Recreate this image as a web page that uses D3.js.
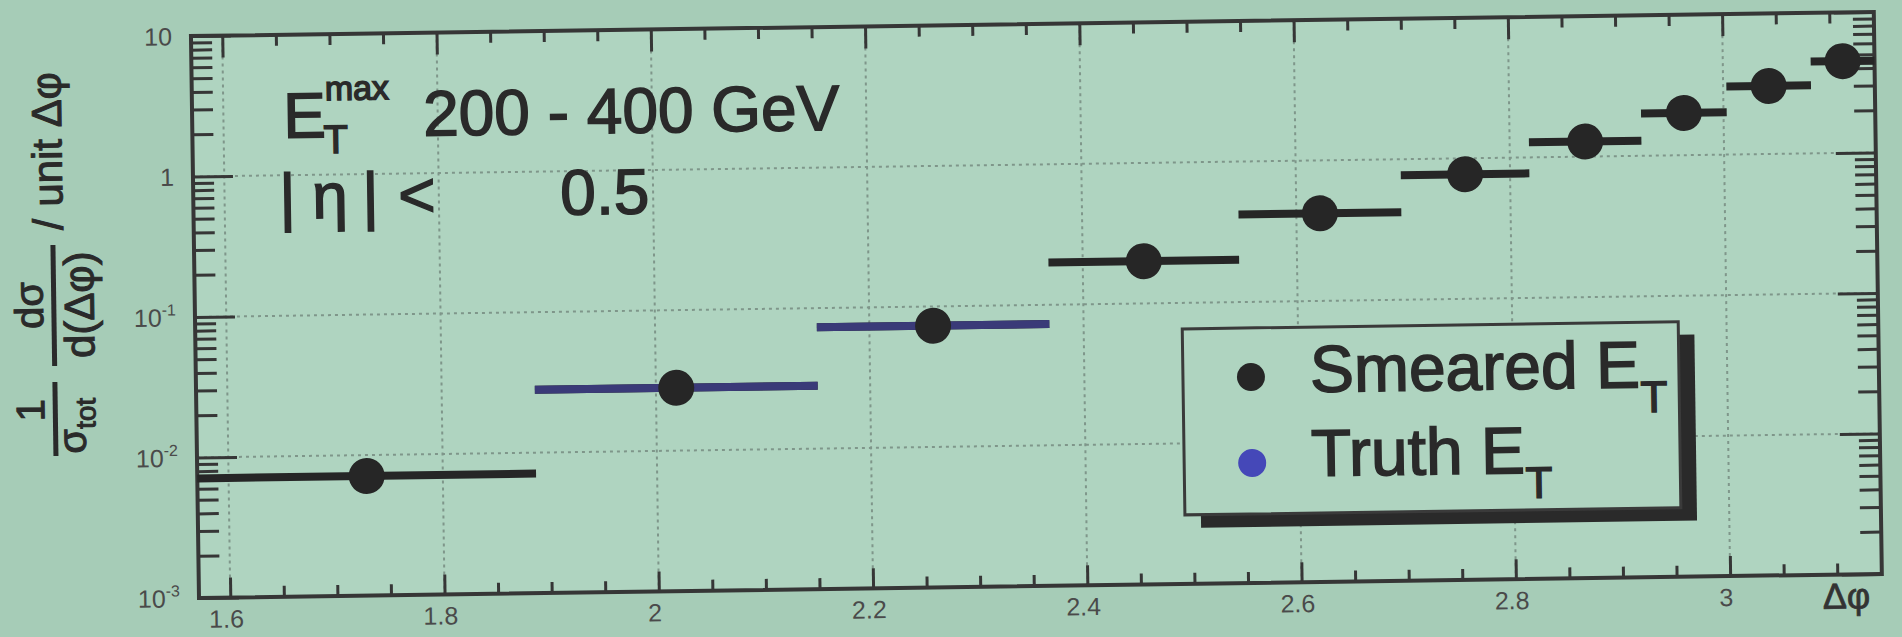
<!DOCTYPE html>
<html>
<head>
<meta charset="utf-8">
<script src="https://cdn.jsdelivr.net/npm/d3@7"></script>
<style>
  html, body { margin: 0; padding: 0; background: #a6ccb7; overflow: hidden; }
  svg { display: block; font-family: "Liberation Sans", Arial, sans-serif; }
</style>
</head>
<body>
<svg id="chart" width="1902" height="637"></svg>
<script>
// Δφ bin edges (radians), pi/2 .. pi
const binEdges = [1.5708, 1.887, 2.151, 2.368, 2.546, 2.698, 2.818, 2.923, 3.003, 3.082, 3.1416];
// 1/σ dσ/d(Δφ) per bin
const smeared = [0.0071, 0.028, 0.073, 0.20, 0.42, 0.77, 1.28, 2.0, 3.05, 4.5];
// truth only visible where it peeks out from under the smeared points
const truth = [null, 0.028, 0.073, null, null, null, null, null, null, null];

const xMajorTicks = [1.6, 1.8, 2.0, 2.2, 2.4, 2.6, 2.8, 3.0];
const xTickLabels = ['1.6', '1.8', '2', '2.2', '2.4', '2.6', '2.8', '3'];
const yMajorTicks = [0.001, 0.01, 0.1, 1, 10];
const yTickLabels = [['10', '-3'], ['10', '-2'], ['10', '-1'], ['1', ''], ['10', '']];
const yGrid = [0.01, 0.1, 1];
const seriesNames = ['Smeared E', 'Truth E'];

const frameColor = '#363636';
const plotBg = '#afd4c0';
const gridColor = '#7f968a';
const smearColor = '#262626';
const truthBarColor = '#3a3a78';
const truthColor = '#4548b8';
const inkColor = '#2a2a2a';

const plotL = 199, plotR = 1882, plotT = 36, plotB = 598;

const svg = d3.select('#chart');
const x = d3.scaleLinear().domain([Math.PI / 2, Math.PI]).range([plotL, plotR]);
const y = d3.scaleLog().domain([1e-3, 10]).range([plotB, plotT]);

// the photographed slide is tilted a little
const g = svg.append('g').attr('transform', `rotate(-0.82, ${plotL}, ${plotB})`);

g.append('rect')
  .attr('x', plotL).attr('y', plotT)
  .attr('width', plotR - plotL).attr('height', plotB - plotT)
  .attr('fill', plotBg);

// grid
g.append('g').selectAll('line').data(xMajorTicks).enter().append('line')
  .attr('x1', d => x(d)).attr('x2', d => x(d))
  .attr('y1', plotT).attr('y2', plotB)
  .attr('stroke', gridColor).attr('stroke-width', 2).attr('stroke-dasharray', '3,4');
g.append('g').selectAll('line').data(yGrid).enter().append('line')
  .attr('x1', plotL).attr('x2', plotR)
  .attr('y1', d => y(d)).attr('y2', d => y(d))
  .attr('stroke', gridColor).attr('stroke-width', 2).attr('stroke-dasharray', '3,4');

// tick marks on all four sides, pointing inward
const xMinor = d3.range(1.6, 3.12, 0.05).filter(v => !xMajorTicks.some(t => Math.abs(t - v) < 1e-6));
const yMinor = [];
[-3, -2, -1, 0].forEach(k => d3.range(2, 10).forEach(m => yMinor.push(m * Math.pow(10, k))));

function ticks(axisFn, scale, values, size, transform) {
  g.append('g').attr('transform', transform)
    .call(axisFn(scale).tickValues(values).tickSizeInner(size).tickSizeOuter(0).tickFormat(''))
    .call(a => a.select('.domain').remove())
    .selectAll('line').attr('stroke', frameColor).attr('stroke-width', 3);
}
ticks(d3.axisBottom, x, xMajorTicks, -20, `translate(0,${plotB})`);
ticks(d3.axisBottom, x, xMinor, -11, `translate(0,${plotB})`);
ticks(d3.axisTop, x, xMajorTicks, -22, `translate(0,${plotT})`);
ticks(d3.axisTop, x, xMinor, -11, `translate(0,${plotT})`);
ticks(d3.axisLeft, y, yMajorTicks, -40, `translate(${plotL},0)`);
ticks(d3.axisLeft, y, yMinor, -21, `translate(${plotL},0)`);
ticks(d3.axisRight, y, yMajorTicks, -40, `translate(${plotR},0)`);
ticks(d3.axisRight, y, yMinor, -21, `translate(${plotR},0)`);

// frame
g.append('rect')
  .attr('x', plotL).attr('y', plotT)
  .attr('width', plotR - plotL).attr('height', plotB - plotT)
  .attr('fill', 'none').attr('stroke', frameColor).attr('stroke-width', 4);

// tick labels
g.append('g').selectAll('text').data(xMajorTicks).enter().append('text')
  .attr('x', d => x(d) - 4).attr('y', plotB + 30)
  .attr('text-anchor', 'middle').attr('font-size', 25).attr('fill', '#4a4a4a')
  .text((d, i) => xTickLabels[i]);

const yl = g.append('g').selectAll('text').data(yMajorTicks).enter().append('text')
  .attr('x', 180).attr('y', d => y(d) + 9)
  .attr('text-anchor', 'end').attr('font-size', 25).attr('fill', '#4a4a4a');
yl.append('tspan').text((d, i) => yTickLabels[i][0]);
yl.append('tspan').attr('font-size', 16).attr('dy', -11).text((d, i) => yTickLabels[i][1]);

// axis titles
g.append('text')
  .attr('x', plotR - 12).attr('y', plotB + 34)
  .attr('text-anchor', 'end').attr('font-size', 36).attr('fill', '#333')
  .attr('stroke', '#333').attr('stroke-width', 0.8)
  .text('Δφ');

const yt = g.append('g').attr('transform', 'rotate(-90)')
  .attr('fill', inkColor).attr('stroke', inkColor).attr('stroke-width', 1);
yt.append('text').attr('x', -408).attr('y', 47).attr('text-anchor', 'middle').attr('font-size', 40).text('1');
yt.append('line').attr('x1', -454).attr('x2', -380).attr('y1', 58).attr('y2', 58).attr('stroke-width', 5);
yt.append('text').attr('x', -452).attr('y', 88).attr('font-size', 40)
  .text('σ').append('tspan').attr('font-size', 28).attr('dy', 10).text('tot');
yt.append('text').attr('x', -303).attr('y', 47).attr('text-anchor', 'middle').attr('font-size', 40).text('dσ');
yt.append('line').attr('x1', -364).attr('x2', -243).attr('y1', 58).attr('y2', 58).attr('stroke-width', 5);
yt.append('text').attr('x', -303).attr('y', 98).attr('text-anchor', 'middle').attr('font-size', 42).text('d(Δφ)');
yt.append('text').attr('x', -228).attr('y', 68).attr('font-size', 42).text('/ unit Δφ');

// data: smeared bars, truth bars over them, then markers
const centers = smeared.map((v, i) => (binEdges[i] + binEdges[i + 1]) / 2);
const bins = smeared.map((v, i) => ({ x0: binEdges[i], x1: binEdges[i + 1], xc: centers[i], s: v, t: truth[i] }));

g.append('g').selectAll('line').data(bins).enter().append('line')
  .attr('x1', d => x(d.x0)).attr('x2', d => x(d.x1))
  .attr('y1', d => y(d.s)).attr('y2', d => y(d.s))
  .attr('stroke', smearColor).attr('stroke-width', 8);
g.append('g').selectAll('line').data(bins.filter(d => d.t != null)).enter().append('line')
  .attr('x1', d => x(d.x0)).attr('x2', d => x(d.x1))
  .attr('y1', d => y(d.t)).attr('y2', d => y(d.t))
  .attr('stroke', truthBarColor).attr('stroke-width', 8);
g.append('g').selectAll('circle').data(bins.filter(d => d.t != null)).enter().append('circle')
  .attr('cx', d => x(d.xc)).attr('cy', d => y(d.t)).attr('r', 17).attr('fill', truthColor);
g.append('g').selectAll('circle').data(bins).enter().append('circle')
  .attr('cx', d => x(d.xc)).attr('cy', d => y(d.s)).attr('r', 18).attr('fill', smearColor);

// annotation
const ann = g.append('g').attr('fill', inkColor).attr('stroke', inkColor).attr('stroke-width', 1.5);
const a1 = ann.append('text').attr('x', 290).attr('y', 139).attr('font-size', 64);
a1.append('tspan').text('E');
a1.append('tspan').attr('x', 332).attr('y', 102).attr('font-size', 34).text('max');
ann.append('text').attr('x', 330).attr('y', 155).attr('font-size', 40).text('T');
ann.append('text').attr('x', 430).attr('y', 139).attr('font-size', 64).text('200 - 400 GeV');
const a2 = ann.append('g').attr('font-size', 64);
a2.append('text').attr('x', 285).attr('y', 220).text('|');
a2.append('text').attr('x', 318).attr('y', 220).text('η');
a2.append('text').attr('x', 368).attr('y', 220).text('|');
a2.append('text').attr('x', 404).attr('y', 220).text('<');
a2.append('text').attr('x', 566).attr('y', 220).text('0.5');

// legend
const lg = g.append('g');
lg.append('rect').attr('x', 1202).attr('y', 356).attr('width', 496).attr('height', 186).attr('fill', '#2a2a2a');
lg.append('rect').attr('x', 1186).attr('y', 343).attr('width', 496).attr('height', 186)
  .attr('fill', plotBg).attr('stroke', '#3a3a3a').attr('stroke-width', 3);
const legendItems = [
  { name: seriesNames[0], color: smearColor, cy: 392, base: 408 },
  { name: seriesNames[1], color: truthColor, cy: 478, base: 492 }
];
legendItems.forEach(it => {
  lg.append('circle').attr('cx', 1254).attr('cy', it.cy).attr('r', 14).attr('fill', it.color);
  const t = lg.append('text').attr('x', 1313).attr('y', it.base).attr('font-size', 66)
    .attr('fill', inkColor).attr('stroke', inkColor).attr('stroke-width', 1.5);
  t.append('tspan').text(it.name);
  t.append('tspan').attr('font-size', 44).attr('dy', 25).text('T');
});
</script>
</body>
</html>
